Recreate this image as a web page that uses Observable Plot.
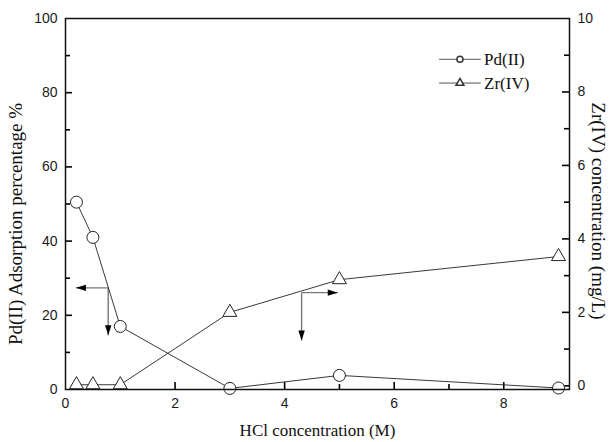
<!DOCTYPE html>
<html>
<head>
<meta charset="utf-8">
<script src="https://cdn.jsdelivr.net/npm/d3@7"></script>
<script src="https://cdn.jsdelivr.net/npm/@observablehq/plot@0.6"></script>
<style>
  html, body { margin: 0; padding: 0; background: #fff; }
  #chart { position: relative; width: 610px; height: 442px; }
</style>
</head>
<body>
<div id="chart"></div>
<script>
// ---- data ----
const hcl = [0.2, 0.5, 1, 3, 5, 9];
const pdAdsorption = [50.5, 41, 17, 0.3, 3.8, 0.4];
const zrConcentration = [0.03, 0.03, 0.03, 2.0, 2.89, 3.52];

const xTickLabels = [0, 2, 4, 6, 8];
const xMinorTicks = [1, 3, 5, 7, 9];
const yTickLabels = [0, 20, 40, 60, 80, 100];
const yMinorTicks = [10, 30, 50, 70, 90];
const y2TickLabels = [0, 2, 4, 6, 8, 10];
const y2MinorTicks = [1, 3, 5, 7, 9];

const seriesNames = ["Pd(II)", "Zr(IV)"];
const xTitle = "HCl concentration (M)";
const yTitle = "Pd(II) Adsorption percentage %";
const y2Title = "Zr(IV) concentration (mg/L)";

// annotation arrows (corner -> tip), in x / left-axis units
const arrowSegments = [
  {x1: 0.78, y1: 27.4, x2: 0.19, y2: 27.4, dir: "left"},
  {x1: 0.78, y1: 27.4, x2: 0.78, y2: 14.6, dir: "down"},
  {x1: 4.31, y1: 26.1, x2: 4.97, y2: 26.1, dir: "right"},
  {x1: 4.31, y1: 26.1, x2: 4.31, y2: 13.2, dir: "down"}
];

// ---- scales helpers ----
const xDomain = [0, 9.2];
const yDomain = [0, 100];
const y2Domain = [-0.1, 10];
const toLeft = v => (v - y2Domain[0]) / (y2Domain[1] - y2Domain[0]) * 100;

const pdRows = hcl.map((x, i) => ({x, y: pdAdsorption[i]}));
const zrRows = hcl.map((x, i) => ({x, y: toLeft(zrConcentration[i])}));

const W = 610, H = 442;
const mL = 65, mR = 41, mT = 18, mB = 53;
const pw = W - mL - mR, ph = H - mT - mB;
const xPerPx = (xDomain[1] - xDomain[0]) / pw;
const yPerPx = (yDomain[1] - yDomain[0]) / ph;

const sans = "Liberation Sans, Arial, sans-serif";
const serif = "Liberation Serif, Times New Roman, serif";

function headSymbol(dir) {
  return {
    draw(ctx) {
      const L = 10, w = 3.2;
      if (dir === "left") { ctx.moveTo(0, 0); ctx.lineTo(L, -w); ctx.lineTo(L, w); }
      else if (dir === "right") { ctx.moveTo(0, 0); ctx.lineTo(-L, -w); ctx.lineTo(-L, w); }
      else { ctx.moveTo(0, 0); ctx.lineTo(-w, -L); ctx.lineTo(w, -L); }
      ctx.closePath();
    }
  };
}

// legend layout (data units)
const legendRows = [
  {name: seriesNames[0], y: 89, sym: "circle", r: 5},
  {name: seriesNames[1], y: 82.6, sym: "triangle", r: 4.6}
];
const legX1 = 6.82, legX2 = 7.58, legXm = 7.2, legXt = 7.64;

const tickStyle = {stroke: "#000", strokeWidth: 1.6};
const xMajLen = 7 * yPerPx, xMinLen = 5 * yPerPx;
const yMajLen = 7 * xPerPx, yMinLen = 5 * xPerPx;

const chart = Plot.plot({
  width: W, height: H,
  marginLeft: mL, marginRight: mR, marginTop: mT, marginBottom: mB,
  x: {domain: xDomain},
  y: {domain: yDomain},
  style: {background: "#fff"},
  marks: [
    // tick labels
    Plot.axisX(xTickLabels, {tickSize: 0, tickPadding: 9, fontSize: 14, fontFamily: sans, fill: "#1a1a1a", label: null}),
    Plot.axisY(yTickLabels, {tickSize: 0, tickPadding: 8, fontSize: 14, fontFamily: sans, fill: "#1a1a1a", label: null}),
    Plot.text(y2TickLabels, {frameAnchor: "right", y: d => toLeft(d), dx: 8, text: d => String(d), textAnchor: "start", fontSize: 14, fontFamily: sans, fill: "#1a1a1a"}),
    // inward tick marks
    Plot.ruleX(xTickLabels.filter(d => d > 0), {x: d => d, y1: yDomain[0], y2: yDomain[0] + xMajLen, ...tickStyle}),
    Plot.ruleX(xMinorTicks, {x: d => d, y1: yDomain[0], y2: yDomain[0] + xMinLen, ...tickStyle}),
    Plot.ruleY(yTickLabels.filter(d => d > 0 && d < 100), {y: d => d, x1: xDomain[0], x2: xDomain[0] + yMajLen, ...tickStyle}),
    Plot.ruleY(yMinorTicks, {y: d => d, x1: xDomain[0], x2: xDomain[0] + yMinLen, ...tickStyle}),
    Plot.ruleY(y2TickLabels.filter(d => d < 10), {y: d => toLeft(d), x1: xDomain[1] - yMajLen, x2: xDomain[1], ...tickStyle}),
    Plot.ruleY(y2MinorTicks, {y: d => toLeft(d), x1: xDomain[1] - yMinLen, x2: xDomain[1], ...tickStyle}),
    // axis titles
    Plot.text([xTitle], {frameAnchor: "bottom", dy: 46, text: d => d, textAnchor: "middle", fontSize: 17, fontFamily: serif, fill: "#111"}),
    Plot.text([yTitle], {frameAnchor: "left", dx: -50, dy: 20, rotate: -90, text: d => d, textAnchor: "middle", fontSize: 19, fontFamily: serif, fill: "#111"}),
    Plot.text([y2Title], {frameAnchor: "right", dx: 29, dy: 7, rotate: 90, text: d => d, textAnchor: "middle", fontSize: 19, fontFamily: serif, fill: "#111"}),
    // annotation arrows
    Plot.link(arrowSegments, {x1: "x1", y1: "y1", x2: "x2", y2: "y2", stroke: "#777", strokeWidth: 1.4}),
    Plot.dot(arrowSegments.filter(d => d.dir === "left"), {x: "x2", y: "y2", symbol: headSymbol("left"), fill: "#000", stroke: "none"}),
    Plot.dot(arrowSegments.filter(d => d.dir === "right"), {x: "x2", y: "y2", symbol: headSymbol("right"), fill: "#000", stroke: "none"}),
    Plot.dot(arrowSegments.filter(d => d.dir === "down"), {x: "x2", y: "y2", symbol: headSymbol("down"), fill: "#000", stroke: "none"}),
    // series
    Plot.line(pdRows, {x: "x", y: "y", stroke: "#222", strokeWidth: 0.9}),
    Plot.line(zrRows, {x: "x", y: "y", stroke: "#222", strokeWidth: 0.9}),
    Plot.dot(pdRows, {x: "x", y: "y", r: 6, symbol: "circle", fill: "#fff", stroke: "#222", strokeWidth: 1}),
    Plot.dot(zrRows, {x: "x", y: "y", r: 5.2, symbol: "triangle", fill: "#fff", stroke: "#222", strokeWidth: 1}),
    // legend
    Plot.link(legendRows, {x1: legX1, x2: legX2, y1: "y", y2: "y", stroke: "#555", strokeWidth: 1}),
    Plot.dot(legendRows.filter(d => d.sym === "circle"), {x: legXm, y: "y", r: "r", symbol: "circle", fill: "#fff", stroke: "#333"}),
    Plot.dot(legendRows.filter(d => d.sym === "triangle"), {x: legXm, y: "y", r: "r", symbol: "triangle", fill: "#fff", stroke: "#333"}),
    Plot.text(legendRows, {x: legXt, y: "y", text: "name", textAnchor: "start", fontSize: 17, fontFamily: serif, fill: "#111"}),
    // frame
    Plot.frame({stroke: "#111", strokeWidth: 1.5})
  ]
});
document.getElementById("chart").appendChild(chart);
</script>
</body>
</html>
